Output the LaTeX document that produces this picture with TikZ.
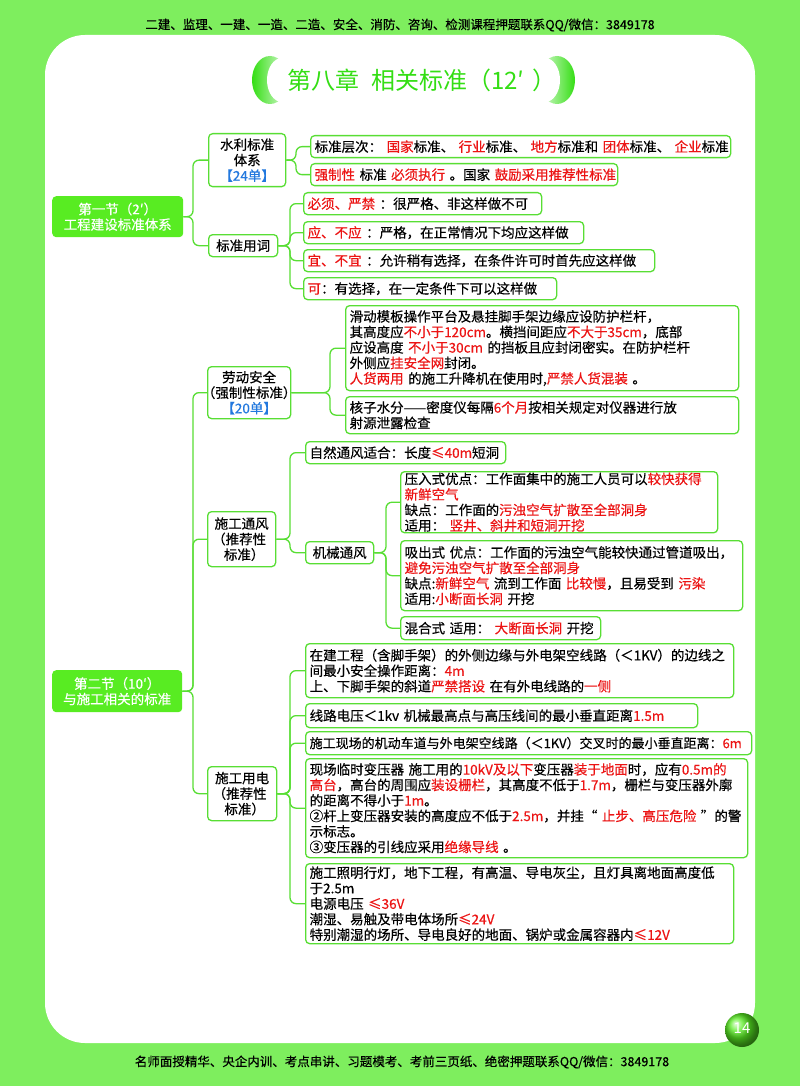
\documentclass[tikz,border=0pt]{standalone}
\usepackage{fontspec}
\setmainfont{Noto Sans CJK SC}[FakeBold=0.4]
\newfontfamily\titlefont{Noto Sans CJK SC}
\usetikzlibrary{calc}
\definecolor{bggreen}{RGB}{126,238,94}
\definecolor{boxgreen}{RGB}{88,222,52}
\definecolor{secgreen}{RGB}{88,236,34}
\definecolor{titlegreen}{RGB}{52,222,20}
\definecolor{redtxt}{RGB}{236,20,20}
\definecolor{bluetxt}{RGB}{34,120,222}
\newcommand{\redt}[1]{\textcolor{redtxt}{#1}}
\newcommand{\bluet}[1]{\textcolor{bluetxt}{#1}}
\newcommand{\hk}[1]{\leavevmode\kern#1\relax}
\tikzset{
  txt/.style={font=\fontsize{13.5}{15.5}\selectfont},
  sec/.style={txt, fill=secgreen, rounded corners=4pt, text=white, align=center, anchor=north west, inner sep=0pt},
  lvl/.style={txt, draw=boxgreen, line width=1.3pt, rounded corners=4pt, fill=white, align=center, anchor=north west, inner xsep=0pt, inner ysep=1pt},
  leaf/.style={txt, draw=boxgreen, line width=1.3pt, rounded corners=4pt, fill=white, align=left, anchor=north west, inner xsep=4pt, inner ysep=1pt},
  conn/.style={draw=boxgreen, line width=1.3pt, rounded corners=6pt},
}
\newcommand{\bx}[7]{% style, name, x, y, w, h, text
  \node[#1, text width=#5pt-8pt, minimum height=#6pt] (#2) at (#3,#4) {#7};}
\newcommand{\lx}[7]{% style, name, x, y, w, h, text (centered)
  \node[#1, text width=#5pt, minimum height=#6pt] (#2) at (#3,#4) {#7};}
\begin{document}
\begin{tikzpicture}[x=1pt,y=-1pt]
\useasboundingbox (0,0) rectangle (800,1086);
% background
\fill[bggreen] (0,0) rectangle (800,1086);
\fill[white] (45,35) [rounded corners=40pt] rectangle (755,1043);
% header / footer
\node[font=\fontsize{12.5}{14}\selectfont] (hdr) at (400,25) {二建、监理、一建、一造、二造、安全、消防、咨询、检测课程押题联系QQ/微信：3849178};
\node[font=\fontsize{12.5}{14}\selectfont] (ftr) at (402,1062) {名师面授精华、央企内训、考点串讲、习题模考、考前三页纸、绝密押题联系QQ/微信：3849178};
% page number
\shade[ball color=secgreen] (742,1030) circle (17);
\node[text=white, font=\titlefont\fontsize{15}{16}\selectfont] (pg) at (742,1028) {14};
% title decorations
\shade[left color=titlegreen, right color=titlegreen!15] (270,80) ellipse (18 and 24);
\fill[white] (282,80) ellipse (15 and 22);
\shade[left color=titlegreen!15, right color=titlegreen] (557,80) ellipse (18 and 24);
\fill[white] (545,80) ellipse (15 and 22);
\node[text=titlegreen, font=\titlefont\fontsize{24}{26}\selectfont] (title) at (422,80) {第八章\hspace{12pt}相关标准（12′\hspace{8pt}）};
% level 1
\lx{sec}{s1}{52}{196}{131}{41}{第一节（2′）\\工程建设标准体系}
\lx{sec}{s2}{52}{670}{130}{42}{第二节（10′）\\与施工相关的标准}
% level 2
\lx{lvl}{sl}{208}{133}{77}{53}{水利标准\\体系\\\bluet{【24单】}}
\lx{lvl}{yc}{208}{234}{69}{22}{标准用词}
\lx{lvl}{ld}{207}{366}{83}{52}{劳动安全\\\hk{-6pt}（强制性标准）\kern-6pt\\\bluet{【20单】}}
\lx{lvl}{tf}{207}{511}{68}{55}{施工通风\\\hk{-5pt}（推荐性\\标准）\kern-5pt}
\lx{lvl}{yd}{207}{766}{69}{54}{施工用电\\\hk{-5pt}（推荐性\\标准）\kern-5pt}
% leaves
\bx{leaf}{a1}{310}{135}{420}{22}{标准层次：~\redt{国家}标准、~\redt{行业}标准、~\redt{地方}标准和~\redt{团体}标准、~\redt{企业}标准}
\bx{leaf}{a2}{310}{163}{307}{22}{\redt{强制性}~标准~\redt{必须执行}~。国家~\redt{鼓励采用推荐性标准}}
\bx{leaf}{b1}{303}{192}{238}{22}{\redt{必须、严禁}~：很严格、非这样做不可}
\bx{leaf}{b2}{303}{221}{280}{22}{\redt{应、不应}~：严格，在正常情况下均应这样做}
\bx{leaf}{b3}{303}{249}{351}{22}{\redt{宜、不宜}~：允许稍有选择，在条件许可时首先应这样做}
\bx{leaf}{b4}{303}{277}{253}{22}{\redt{可}：有选择，在一定条件下可以这样做}
\bx{leaf}{c1}{345}{305}{393}{85}{滑动模板操作平台及悬挂脚手架边缘应设防护栏杆，\\其高度应\redt{不小于120cm}。横挡间距应\redt{不大于35cm}，底部\\应设高度~\redt{不小于30cm}~的挡板且应封闭密实。在防护栏杆\\外侧应\redt{挂安全网}封闭。\\\redt{人货两用}~的施工升降机在使用时,\redt{严禁人货混装}~。}
\bx{leaf}{c2}{345}{396}{393}{37}{核子水分——密度仪每隔\redt{6个月}按相关规定对仪器进行放\\射源泄露检查}
\bx{leaf}{d1}{305}{441}{200}{22}{自然通风适合：长度\redt{≤40m}短洞}
\lx{lvl}{jx}{305}{541}{68}{22}{机械通风}
\bx{leaf}{e1}{400}{471}{317}{61}{压入式优点：工作面集中的施工人员可以\redt{较快获得}\\\redt{新鲜空气}\\缺点：工作面的\redt{污浊空气扩散至全部洞身}\\适用：~\redt{竖井、斜井和短洞开挖}}
\bx{leaf}{e2}{400}{540}{342}{70}{吸出式~优点：工作面的污浊空气能较快通过管道吸出，\\\redt{避免污浊空气扩散至全部洞身}\\缺点:\redt{新鲜空气}~流到工作面~\redt{比较慢}，且易受到~\redt{污染}\\适用:\redt{小断面长洞}~开挖}
\bx{leaf}{e3}{400}{616}{200}{23}{混合式~适用：~\redt{大断面长洞}~开挖}
\bx{leaf}{f1}{305}{643}{428}{54}{在建工程（含脚手架）的外侧边缘与外电架空线路（＜1KV）的边线之\\间最小安全操作距离：\redt{4m}\\上、下脚手架的斜道\redt{严禁搭设}~在有外电线路的\redt{一侧}}
\bx{leaf}{f2}{305}{703}{392}{24}{线路电压＜1kv~机械最高点与高压线间的最小垂直距离\redt{1.5m}}
\bx{leaf}{f3}{305}{731}{446}{23}{\fontsize{13}{15.5}\selectfont 施工现场的机动车道与外电架空线路（＜1KV）交叉时的最小垂直距离：\redt{6m}}
\bx{leaf}{f4}{305}{758}{442}{99}{现场临时变压器~施工用的\redt{10kV及以下}变压器\redt{装于地面}时，应有\redt{0.5m的}\\\redt{高台}，高台的周围应\redt{装设栅栏}，其高度不低于\redt{1.7m}，栅栏与变压器外廓\\的距离不得小于\redt{1m}。\\②杆上变压器安装的高度应不低于\redt{2.5m}，并挂“~\redt{止步、高压危险}~”的警\\示标志。\\③变压器的引线应采用\redt{绝缘导线}~。}
\bx{leaf}{f5}{305}{863}{428}{80}{施工照明行灯，地下工程，有高温、导电灰尘，且灯具离地面高度低\\于2.5m\\电源电压~\redt{≤36V}\\潮湿、易触及带电体场所\redt{≤24V}\\特别潮湿的场所、导电良好的地面、锅炉或金属容器内\redt{≤12V}}
% trunks
\coordinate (t1) at (193,0);
\coordinate (t2) at (296,0);
\coordinate (t3) at (290,0);
\coordinate (t4) at (330,0);
\coordinate (t5) at (386,0);
% connectors
\foreach \p/\t/\c in {s1/t1/sl, s1/t1/yc, sl/t2/a1, sl/t2/a2, yc/t3/b1, yc/t3/b2, yc/t3/b3, yc/t3/b4,
  s2/t1/ld, s2/t1/tf, s2/t1/yd, ld/t4/c1, ld/t4/c2, tf/t3/d1, tf/t3/jx, jx/t5/e1, jx/t5/e2, jx/t5/e3,
  yd/t3/f1, yd/t3/f2, yd/t3/f3, yd/t3/f4, yd/t3/f5}
  {\draw[conn] (\p.east) -- (\p.east -| \t) |- (\c.west);}
\end{tikzpicture}
\end{document}
